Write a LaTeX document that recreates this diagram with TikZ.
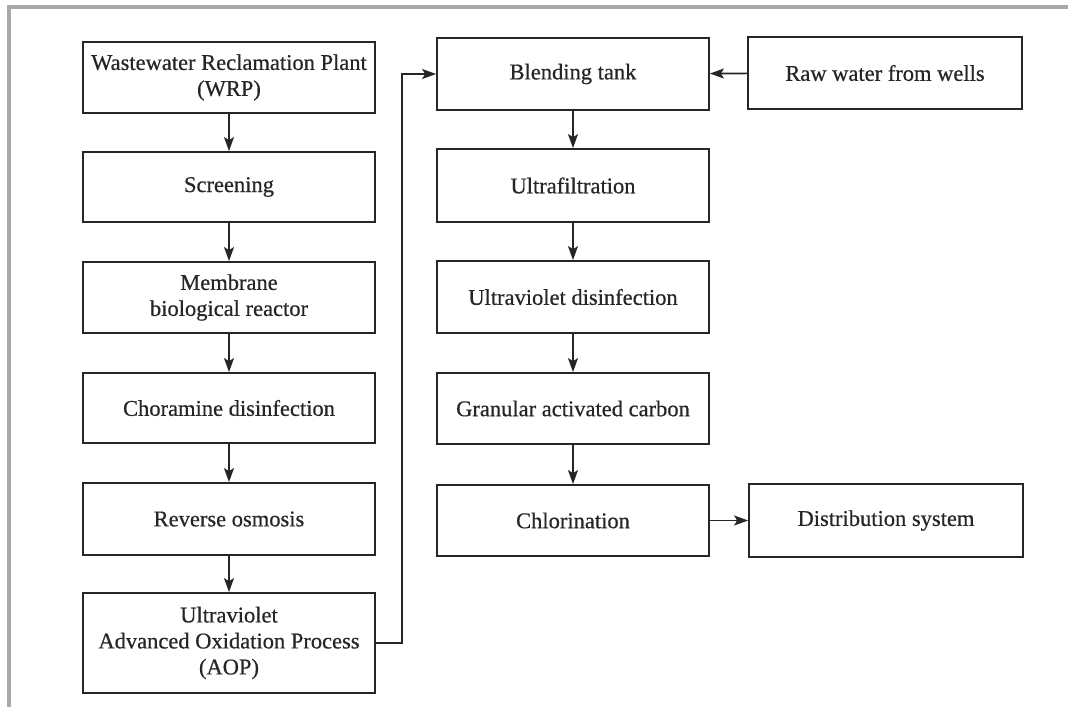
\documentclass[tikz,border=0pt]{standalone}
\usepackage{fontspec}
\setmainfont{Liberation Serif}
\newfontfamily\boxfont{Liberation Serif}[FakeBold=0.6]
\usetikzlibrary{arrows.meta}
\definecolor{inkc}{HTML}{262626}
\definecolor{framec}{HTML}{A8A8A8}
\tikzset{
  stepbox/.style={draw=inkc, line width=1.8pt, rectangle, align=center,
    inner sep=0pt, text=inkc, font=\boxfont\fontsize{22.5}{26}\selectfont},
  flow/.style={draw=inkc, line width=1.6pt,
    -{Stealth[length=14pt,width=10pt,inset=3pt]}},
}
\begin{document}
\begin{tikzpicture}[x=1pt,y=-1pt]
  \useasboundingbox (0,0) rectangle (1068,707);
  % page frame (top and left edges)
  \draw[framec, line width=4pt] (9,707) -- (9,7) -- (1068,7);

  % left column
  \node[stepbox, minimum width=292pt, minimum height=71pt] (wrp) at (229,77.5)
    {Wastewater Reclamation Plant\\(WRP)};
  \node[stepbox, minimum width=292pt, minimum height=70pt] (scr) at (229,187)
    {Screening};
  \node[stepbox, minimum width=292pt, minimum height=71pt] (mbr) at (229,297.5)
    {Membrane\\biological reactor};
  \node[stepbox, minimum width=292pt, minimum height=70pt] (chm) at (229,408)
    {Choramine disinfection};
  \node[stepbox, minimum width=292pt, minimum height=72pt] (ro) at (229,519)
    {Reverse osmosis};
  \node[stepbox, minimum width=292pt, minimum height=100pt] (aop) at (229,643)
    {Ultraviolet\\Advanced Oxidation Process\\(AOP)};

  % right column
  \node[stepbox, minimum width=272pt, minimum height=72pt] (blend) at (573,74)
    {Blending tank};
  \node[stepbox, minimum width=272pt, minimum height=73pt] (uf) at (573,185.5)
    {Ultrafiltration};
  \node[stepbox, minimum width=272pt, minimum height=72pt] (uv) at (573,297)
    {Ultraviolet disinfection};
  \node[stepbox, minimum width=272pt, minimum height=71pt] (gac) at (573,408.5)
    {Granular activated carbon};
  \node[stepbox, minimum width=272pt, minimum height=71pt] (cl) at (573,520.5)
    {Chlorination};

  % side boxes
  \node[stepbox, minimum width=274pt, minimum height=72pt] (raw) at (885,73)
    {Raw water from wells};
  \node[stepbox, minimum width=274pt, minimum height=73pt] (dist) at (886,520.5)
    {Distribution system};

  % connectors
  \draw[flow] (wrp) -- (scr);
  \draw[flow] (scr) -- (mbr);
  \draw[flow] (mbr) -- (chm);
  \draw[flow] (chm) -- (ro);
  \draw[flow] (ro) -- (aop);

  \coordinate (riser) at (402,360);
  \draw[flow] (aop.east) -| (riser) |- (blend.west);

  \draw[flow] (raw) -- (blend);
  \draw[flow] (blend) -- (uf);
  \draw[flow] (uf) -- (uv);
  \draw[flow] (uv) -- (gac);
  \draw[flow] (gac) -- (cl);
  \draw[flow] (cl) -- (dist);
\end{tikzpicture}
\end{document}
